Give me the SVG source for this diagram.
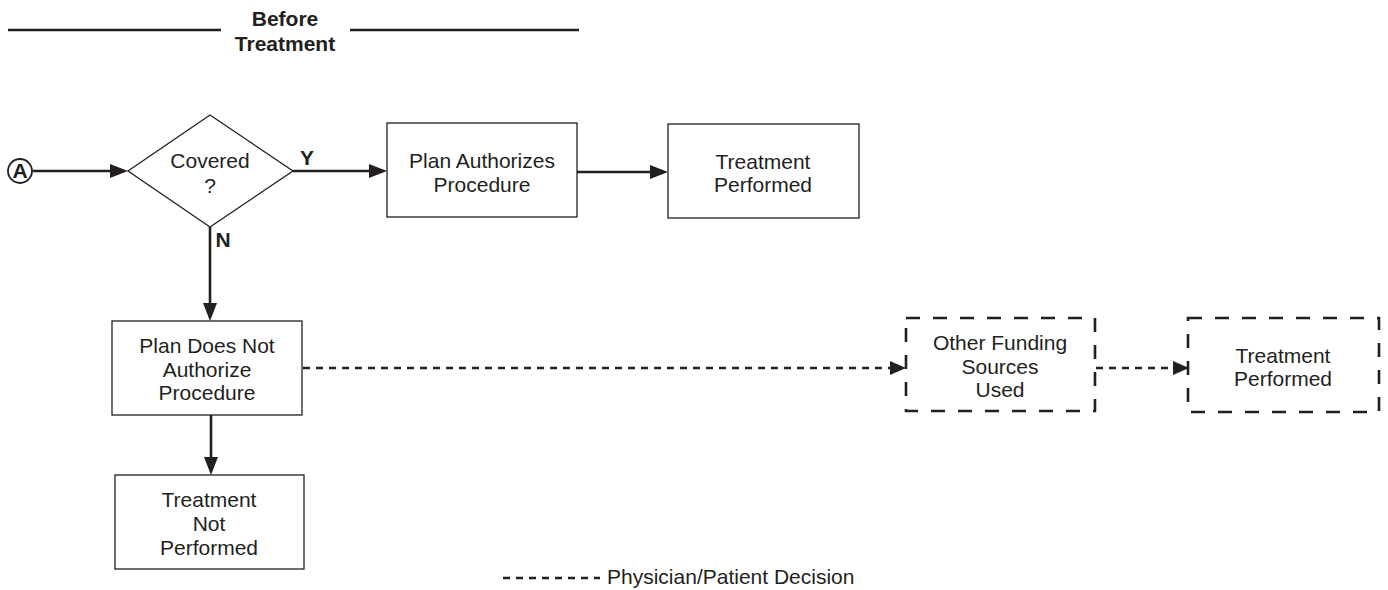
<svg xmlns="http://www.w3.org/2000/svg" width="1388" height="590" viewBox="0 0 1388 590">
<style>
text{font-family:"Liberation Sans",Arial,sans-serif;font-size:21px;fill:#231f20;text-anchor:middle}
.b{font-weight:bold}
.box{fill:#fff;stroke:#231f20;stroke-width:1.3}
.dbox{fill:#fff;stroke:#231f20;stroke-width:2.6;stroke-dasharray:14 13}
.c{stroke:#231f20;stroke-width:2.6;fill:none}
.d{stroke:#231f20;stroke-width:2.4;fill:none;stroke-dasharray:7 6}
</style>
<defs>
<marker id="ah" viewBox="0 0 18 14" refX="14" refY="7" markerWidth="18" markerHeight="14" markerUnits="userSpaceOnUse" orient="auto"><path d="M0,0 L18,7 L0,14 z" fill="#231f20"/></marker>
<marker id="ahs" viewBox="0 0 16 14" refX="12" refY="7" markerWidth="16" markerHeight="14" markerUnits="userSpaceOnUse" orient="auto"><path d="M0,0 L16,7 L0,14 z" fill="#231f20"/></marker>
</defs>
<g id="header">
<line x1="8" y1="30" x2="221" y2="30" stroke="#231f20" stroke-width="2.6"/>
<line x1="350" y1="30" x2="579" y2="30" stroke="#231f20" stroke-width="2.6"/>
<text x="285" y="26" class="b" font-size="19.5">Before</text>
<text x="285" y="51" class="b" font-size="19.5">Treatment</text>
</g>
<g id="connectors">
<line class="c" x1="33" y1="171" x2="124" y2="171" marker-end="url(#ah)"/>
<line class="c" x1="293" y1="171" x2="383" y2="171" marker-end="url(#ah)"/>
<line class="c" x1="577" y1="172" x2="664" y2="172" marker-end="url(#ah)"/>
<line class="c" x1="210" y1="227" x2="210" y2="317" marker-end="url(#ah)"/>
<line class="c" x1="211" y1="415" x2="211" y2="471" marker-end="url(#ah)"/>
<line class="d" x1="303" y1="368" x2="902" y2="368" marker-end="url(#ahs)"/>
<line class="d" x1="1096" y1="368" x2="1185" y2="368" marker-end="url(#ahs)"/>
<text x="307" y="165" class="b" font-size="19.5">Y</text>
<text x="223" y="247" class="b" font-size="19.5">N</text>
</g>
<g id="startA">
<circle cx="20" cy="171" r="12" fill="#fff" stroke="#231f20" stroke-width="1.8"/>
<text x="20" y="178" class="b" font-size="20">A</text>
</g>
<g id="covered">
<polygon class="box" points="128,171 210,115 293,171 210,227"/>
<text x="210" y="168">Covered</text>
<text x="210" y="193">?</text>
</g>
<g id="planAuth">
<rect class="box" x="387" y="123" width="190" height="94"/>
<text x="482" y="168">Plan Authorizes</text>
<text x="482" y="192">Procedure</text>
</g>
<g id="treatPerf1">
<rect class="box" x="668" y="124" width="191" height="94"/>
<text x="763" y="169">Treatment</text>
<text x="763" y="192">Performed</text>
</g>
<g id="planNotAuth">
<rect class="box" x="112" y="321" width="190" height="94"/>
<text x="207" y="353">Plan Does Not</text>
<text x="207" y="377">Authorize</text>
<text x="207" y="400">Procedure</text>
</g>
<g id="treatNotPerf">
<rect class="box" x="115" y="475" width="189" height="94"/>
<text x="209" y="507">Treatment</text>
<text x="209" y="531">Not</text>
<text x="209" y="555">Performed</text>
</g>
<g id="otherFunding">
<rect class="dbox" x="906" y="318" width="189" height="93"/>
<text x="1000" y="350">Other Funding</text>
<text x="1000" y="374">Sources</text>
<text x="1000" y="397">Used</text>
</g>
<g id="treatPerf2">
<rect class="dbox" x="1188" y="318" width="191" height="94"/>
<text x="1283" y="363">Treatment</text>
<text x="1283" y="386">Performed</text>
</g>
<g id="legend">
<line class="d" x1="503" y1="578" x2="600" y2="578" stroke-width="2"/>
<text x="607" y="584" style="text-anchor:start">Physician/Patient Decision</text>
</g>
</svg>
